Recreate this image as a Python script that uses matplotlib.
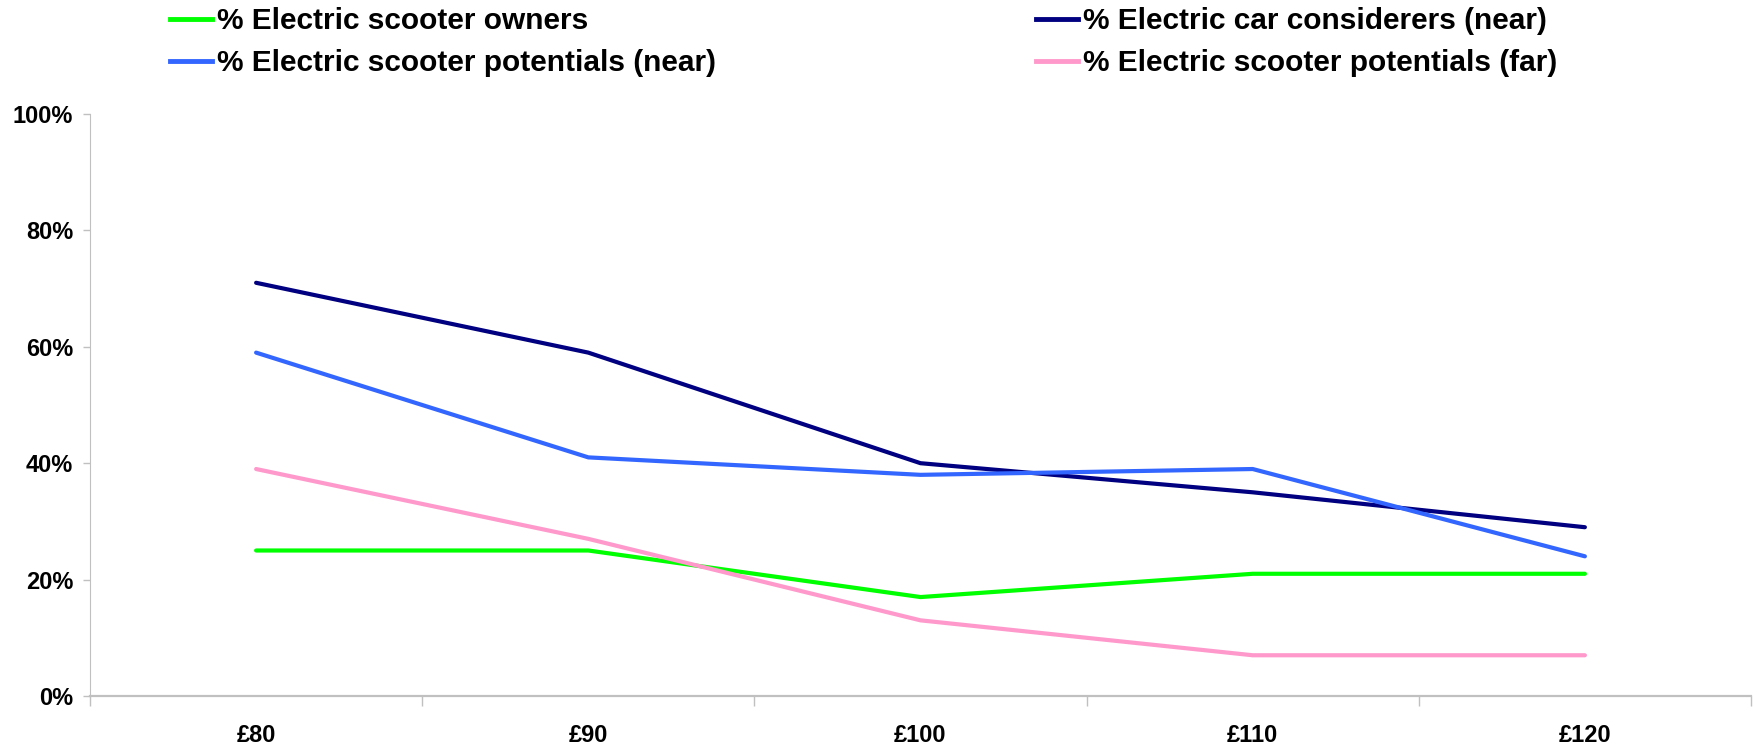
import matplotlib.pyplot as plt
from matplotlib.lines import Line2D
from matplotlib.ticker import FixedLocator, PercentFormatter

plt.rcParams['font.family'] = ['Liberation Sans', 'DejaVu Sans']
plt.rcParams['font.weight'] = 'bold'

prices = ["£80", "£90", "£100", "£110", "£120"]
scooter_owners = [25, 25, 17, 21, 21]
car_considerers_near = [71, 59, 40, 35, 29]
scooter_potentials_near = [59, 41, 38, 39, 24]
scooter_potentials_far = [39, 27, 13, 7, 7]

series = [
    ("% Electric scooter owners", scooter_owners, "#00FF00"),
    ("% Electric car considerers (near)", car_considerers_near, "#000080"),
    ("% Electric scooter potentials (near)", scooter_potentials_near, "#3366FF"),
    ("% Electric scooter potentials (far)", scooter_potentials_far, "#FF99CC"),
]

fig = plt.figure(figsize=(17.58, 7.5), dpi=100)
ax = fig.add_axes([90 / 1758, 54 / 750, 1661 / 1758, 582 / 750])

x = range(len(prices))
for label, vals, color in series:
    ax.plot(x, vals, color=color, lw=3, solid_capstyle="round", label=label)

ax.set_xlim(-0.5, len(prices) - 0.5)
ax.set_ylim(0, 100)
ax.yaxis.set_major_locator(FixedLocator([0, 20, 40, 60, 80, 100]))
ax.yaxis.set_major_formatter(PercentFormatter(decimals=0))

# category labels centred, tick marks on the boundaries
ax.set_xticks([i + 0.5 for i in range(-1, len(prices))])
ax.set_xticklabels([])
ax.set_xticks(list(x), minor=True)
ax.set_xticklabels(prices, minor=True)
ax.tick_params(axis="x", which="minor", length=0, pad=20, labelsize=17)
ax.tick_params(axis="x", which="major", length=7, width=1, color="#C0C0C0", direction="out")
ax.tick_params(axis="y", length=5, width=1, color="#C0C0C0", labelsize=17, pad=7)

for side in ["top", "right"]:
    ax.spines[side].set_visible(False)
ax.spines["left"].set_color("#C0C0C0")
ax.spines["bottom"].set_color("#C0C0C0")
ax.spines["bottom"].set_linewidth(1.6)

handles = [Line2D([], [], color=c, lw=3.5) for _, _, c in series]
labels = [s[0] for s in series]
legend_kw = dict(frameon=False, fontsize=21.5, handlelength=1.42, handletextpad=0.14,
                 labelspacing=0.48, borderaxespad=0, borderpad=0, loc="upper left")
fig.legend([handles[0], handles[2]], [labels[0], labels[2]],
           bbox_to_anchor=(170 / 1758, 1 - 7 / 750), **legend_kw)
fig.legend([handles[1], handles[3]], [labels[1], labels[3]],
           bbox_to_anchor=(1036 / 1758, 1 - 7 / 750), **legend_kw)

fig.savefig("out.png", dpi=100)
